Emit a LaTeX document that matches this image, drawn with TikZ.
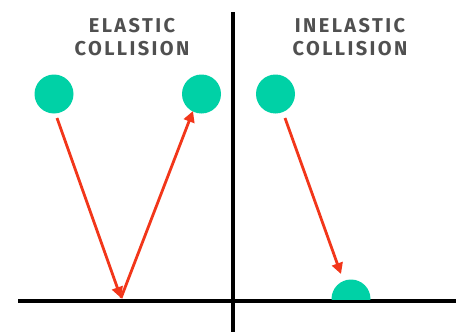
\documentclass[tikz,border=0pt]{standalone}
\usepackage{fontspec}
\setmainfont{Fira Sans}
\newfontfamily\hand[LetterSpace=12]{Fira Sans}
\usetikzlibrary{arrows.meta}
\definecolor{ball}{HTML}{00D1A6}
\definecolor{arr}{HTML}{F2361A}
\definecolor{txt}{HTML}{505050}
\tikzset{
  axis/.style={line width=3.4pt, black},
  ballst/.style={circle, fill=ball, minimum size=39pt, inner sep=0pt},
  motion/.style={arr, line width=2.8pt, -{Triangle[length=11pt,width=11pt]}},
  title/.style={txt, font=\hand\bfseries\fontsize{20}{23}\selectfont, align=center}
}
\begin{document}
\begin{tikzpicture}[x=1pt,y=-1pt]
\useasboundingbox (0,0) rectangle (456,332);
% axes
\coordinate (vt) at (233,12);
\coordinate (vb) at (233,332);
\coordinate (hl) at (18,301);
\coordinate (hr) at (456,301);
\draw[axis] (vt) -- (vb);
\draw[axis] (hl) -- (hr);
% titles
\node[title] (t1) at (132,37) {ELASTIC\\COLLISION};
\node[title] (t2) at (350,37) {INELASTIC\\COLLISION};
% balls
\node[ballst] (b1) at (54,94) {};
\node[ballst] (b2) at (201.5,94) {};
\node[ballst] (b3) at (275.5,94) {};
\begin{scope}
\clip (300,250) rectangle (400,299.5);
\node[ballst] (b4) at (351,299) {};
\end{scope}
% arrows
\coordinate (bounce) at (121,298);
\coordinate (s1) at (57,118);
\coordinate (e2) at (193,111);
\coordinate (s3) at (285,118);
\coordinate (e3) at (341,274);
\draw[motion] (s1) -- (bounce);
\draw[motion] (bounce) -- (e2);
\draw[motion] (s3) -- (e3);
\end{tikzpicture}
\end{document}
